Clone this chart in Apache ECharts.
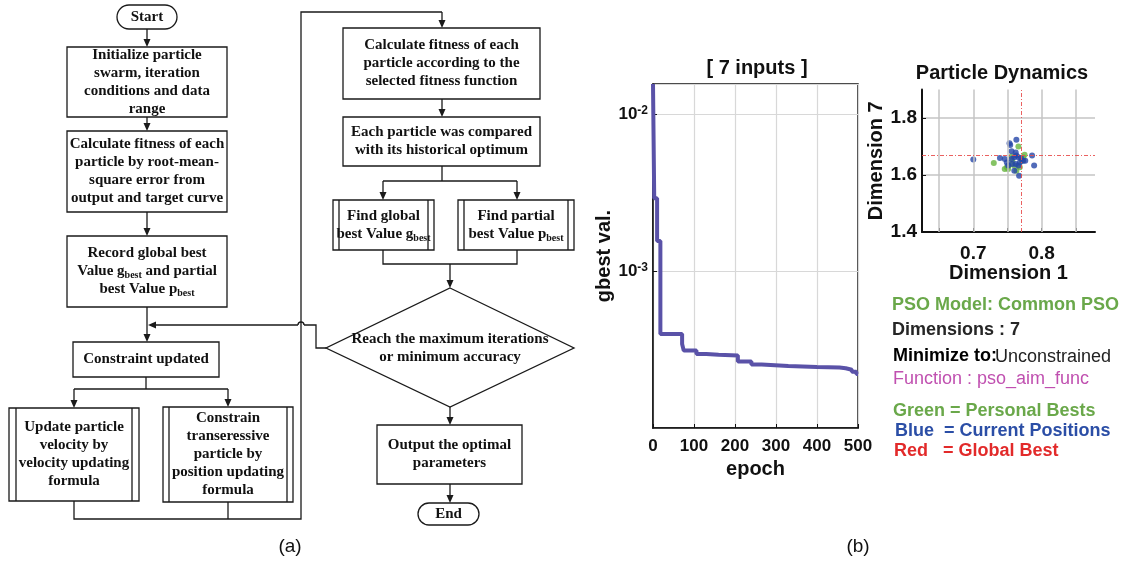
<!DOCTYPE html>
<html><head><meta charset="utf-8">
<script src="https://cdn.jsdelivr.net/npm/echarts@6/dist/echarts.min.js"></script>
<style>html,body{margin:0;padding:0;background:#fff}#c{width:1132px;height:566px}</style>
</head><body><div id="c"></div>
<script>
// ---- (b) convergence curve: gbest value vs epoch (step changes)
const epochs = [0, 3, 10, 18, 71, 75, 106, 130, 160, 207, 240, 265, 330, 400, 455, 470, 485, 496, 500];
const gbest  = [0.0155, 0.0029, 0.00155, 0.000397, 0.000343, 0.000311, 0.000296, 0.000293, 0.000290, 0.000265, 0.000254, 0.000248, 0.000245, 0.000243, 0.000240, 0.000235, 0.000228, 0.000221, 0.000219];
const epochTicks = [0, 100, 200, 300, 400, 500];
const logTickExps = [-2, -3];

// ---- (b) particle dynamics
const pbestX = [0.730, 0.766, 0.775, 0.773, 0.746, 0.751, 0.763, 0.757, 0.752, 0.749, 0.768, 0.760, 0.756, 0.771];
const pbestY = [1.642, 1.700, 1.671, 1.662, 1.621, 1.621, 1.615, 1.650, 1.633, 1.627, 1.627, 1.633, 1.665, 1.650];
const curX = [0.700, 0.753, 0.754, 0.763, 0.739, 0.756, 0.762, 0.763, 0.766, 0.760, 0.756, 0.749, 0.751, 0.757, 0.762, 0.760, 0.767, 0.773, 0.776, 0.786, 0.789, 0.746, 0.766, 0.768, 0.770];
const curY = [1.654, 1.711, 1.705, 1.724, 1.660, 1.683, 1.679, 1.668, 1.662, 1.662, 1.656, 1.644, 1.633, 1.639, 1.639, 1.615, 1.597, 1.650, 1.650, 1.668, 1.633, 1.656, 1.633, 1.644, 1.659];
const globalBest = [0.765, 1.670];
const dimXTicks = [0.65, 0.7, 0.75, 0.8, 0.85];
const dimXLabels = [0.7, 0.8];

// ---- texts
const infoLines = ['PSO Model: Common PSO', 'Dimensions : 7', 'Minimize to:', 'Unconstrained', 'Function : pso_aim_func',
  'Green = Personal Bests', 'Blue  = Current Positions', 'Red   = Global Best'];
const flowText = {
  start: 'Start', end: 'End',
  b1: ['Initialize particle', 'swarm, iteration', 'conditions and data', 'range'],
  b2: ['Calculate fitness of each', 'particle by root-mean-', 'square error from', 'output and target curve'],
  b3: ['Record global best', 'Value g{sub|best} and partial', 'best Value p{sub|best}'],
  b4: ['Constraint updated'],
  s1: ['Update particle', 'velocity by', 'velocity updating', 'formula'],
  s2: ['Constrain', 'transeressive', 'particle by', 'position updating', 'formula'],
  a: ['Calculate fitness of each', 'particle according to the', 'selected fitness function'],
  b: ['Each particle was compared', 'with its historical optimum'],
  c: ['Find global', 'best Value g{sub|best}'],
  d: ['Find partial', 'best Value p{sub|best}'],
  dia: ['Reach the maximum iterations', 'or minimum accuracy'],
  e: ['Output the optimal', 'parameters']
};

const SERIF = '"Liberation Serif","Times New Roman",serif';
const SANS = '"Liberation Sans",Arial,sans-serif';
const INK = '#1a1a1a';
const LW = 1.3;
const G = [];
function txt(cx, cy, lines) {
  G.push({type: 'text', x: cx, y: cy, silent: true, z: 10,
    style: {text: lines.join('\n'), fontFamily: SERIF, fontWeight: 'bold', fontSize: 15, lineHeight: 18,
      fill: '#111', align: 'center', verticalAlign: 'middle',
      rich: {sub: {fontFamily: SERIF, fontWeight: 'bold', fontSize: 10, lineHeight: 10, verticalAlign: 'bottom', fill: '#111'}}}});
}
function rect(x, y, w, h, r) {
  G.push({type: 'rect', silent: true, shape: {x, y, width: w, height: h, r: r || 0}, style: {fill: '#fff', stroke: INK, lineWidth: LW}});
}
function box(x, y, w, h, lines) { rect(x, y, w, h); txt(x + w / 2, y + h / 2, lines); }
function sub(x, y, w, h, lines, o) {
  rect(x, y, w, h);
  G.push({type: 'line', silent: true, shape: {x1: x + o, y1: y, x2: x + o, y2: y + h}, style: {stroke: INK, lineWidth: LW}});
  G.push({type: 'line', silent: true, shape: {x1: x + w - o, y1: y, x2: x + w - o, y2: y + h}, style: {stroke: INK, lineWidth: LW}});
  txt(x + w / 2, y + h / 2, lines);
}
function poly(pts) { G.push({type: 'polyline', silent: true, shape: {points: pts}, style: {stroke: INK, lineWidth: LW, fill: null}}); }
function arrowDown(x, y1, y2) {
  poly([[x, y1], [x, y2 - 6]]);
  G.push({type: 'polygon', silent: true, shape: {points: [[x - 3.5, y2 - 8], [x + 3.5, y2 - 8], [x, y2]]}, style: {fill: INK}});
}
function arrowLeft(x, y) {
  G.push({type: 'polygon', silent: true, shape: {points: [[x + 8, y - 3.5], [x + 8, y + 3.5], [x, y]]}, style: {fill: INK}});
}
// terminals
rect(117, 5, 60, 24, 12); txt(147, 17, [flowText.start]);
rect(418, 503, 61, 22, 11); txt(448.5, 514, [flowText.end]);
// left column
box(67, 47, 160, 70, flowText.b1);
box(67, 131, 160, 81, flowText.b2);
box(67, 236, 160, 71, flowText.b3);
box(73, 342, 146, 35, flowText.b4);
sub(9, 408, 130, 93, flowText.s1, 7);
sub(163, 407, 130, 95, flowText.s2, 6);
arrowDown(147, 29, 47);
arrowDown(147, 117, 131);
arrowDown(147, 212, 236);
arrowDown(147, 307, 342);
poly([[146, 377], [146, 389]]);
poly([[74, 389], [228, 389]]);
arrowDown(74, 389, 408);
arrowDown(228, 389, 407);
poly([[74, 501], [74, 519], [301, 519], [301, 12], [442, 12]]);
poly([[228, 502], [228, 519]]);
arrowDown(442, 12, 28);
// right column
box(343, 28, 197, 71, flowText.a);
box(343, 117, 197, 49, flowText.b);
sub(333, 200, 101, 50, flowText.c, 6);
sub(458, 200, 116, 50, flowText.d, 6);
arrowDown(442, 99, 117);
poly([[442, 166], [442, 181]]);
poly([[383, 181], [517, 181]]);
arrowDown(383, 181, 200);
arrowDown(517, 181, 200);
poly([[383, 250], [383, 264], [517, 264], [517, 250]]);
arrowDown(450, 264, 288);
G.push({type: 'polygon', silent: true, shape: {points: [[450, 288], [574, 348], [450, 407], [326, 348]]}, style: {fill: '#fff', stroke: INK, lineWidth: LW}});
txt(450, 348.5, flowText.dia);
poly([[326, 348], [316, 348], [316, 325], [304, 325]]);
G.push({type: 'arc', silent: true, shape: {cx: 301, cy: 325, r: 3, startAngle: Math.PI, endAngle: 2 * Math.PI, clockwise: true}, style: {stroke: INK, lineWidth: LW, fill: null}});
poly([[298, 325], [153, 325]]);
arrowLeft(148, 325);
arrowDown(450, 407, 425);
box(377, 425, 145, 59, flowText.e);
arrowDown(450, 484, 503);

// titles / captions / info text
function stext(x, y, s, size, weight, color, align) {
  G.push({type: 'text', x, y, silent: true, z: 10,
    style: {text: s, fontFamily: SANS, fontSize: size, fontWeight: weight, fill: color, align: align || 'center', verticalAlign: 'middle'}});
}
stext(290, 547, '(a)', 19, 'normal', '#111');
stext(858, 547, '(b)', 19, 'normal', '#111');
stext(757, 68, '[ 7 inputs ]', 20, 'bold', '#111');
stext(1002, 73, 'Particle Dynamics', 20, 'bold', '#111');
stext(892, 305, infoLines[0], 18, 'bold', '#6aa84a', 'left');
stext(892, 330, infoLines[1], 18, 'bold', '#262626', 'left');
stext(893, 356, infoLines[2], 18, 'bold', '#000', 'left');
stext(995, 357, infoLines[3], 18, 'normal', '#222', 'left');
stext(893, 379, infoLines[4], 18, 'normal', '#c050b0', 'left');
stext(893, 411, infoLines[5], 18, 'bold', '#6aa84a', 'left');
stext(895, 431, infoLines[6], 18, 'bold', '#2b4ea6', 'left');
stext(894, 451, infoLines[7], 18, 'bold', '#e22a2a', 'left');

const boldLbl = {fontFamily: SANS, fontWeight: 'bold', color: '#111'};
const chart = echarts.init(document.getElementById('c'));
chart.setOption({
  animation: false,
  backgroundColor: '#fff',
  textStyle: {fontFamily: SANS},
  grid: [
    {left: 653, top: 84, width: 205, height: 344, show: true, borderColor: '#111', borderWidth: 1.5, backgroundColor: 'transparent'},
    {left: 922, top: 89.5, width: 173, height: 142.5}
  ],
  xAxis: [
    {gridIndex: 0, type: 'value', min: epochTicks[0], max: epochTicks[epochTicks.length - 1], interval: 100,
      axisLine: {lineStyle: {color: '#111', width: 1.5}},
      axisTick: {inside: true, length: 4, lineStyle: {color: '#111'}},
      axisLabel: Object.assign({fontSize: 17, margin: 10}, boldLbl),
      splitLine: {lineStyle: {color: '#d8d8d8', width: 1.2}},
      name: 'epoch', nameLocation: 'middle', nameGap: 27, nameTextStyle: Object.assign({fontSize: 20}, boldLbl)},
    {gridIndex: 1, type: 'value', min: 0.625, max: 0.878,
      axisLine: {onZero: false, lineStyle: {color: '#111', width: 2}},
      axisTick: {inside: true, length: 4, customValues: dimXTicks, lineStyle: {color: '#111'}},
      axisLabel: Object.assign({fontSize: 19, margin: 12, customValues: dimXLabels}, boldLbl),
      splitLine: {show: false},
      name: 'Dimension 1', nameLocation: 'middle', nameGap: 30, nameTextStyle: Object.assign({fontSize: 20}, boldLbl)}
  ],
  yAxis: [
    {gridIndex: 0, type: 'log', logBase: 10, min: 1e-4, max: 0.0155,
      axisLine: {lineStyle: {color: '#111', width: 1.5}},
      axisTick: {inside: true, length: 4, lineStyle: {color: '#111'}},
      axisLabel: {showMinLabel: false, showMaxLabel: false, margin: 5,
        formatter: v => { const e = Math.round(Math.log10(v)); return logTickExps.indexOf(e) >= 0 ? '{b|10}{s|' + e + '}' : ''; },
        rich: {b: Object.assign({fontSize: 17}, boldLbl), s: Object.assign({fontSize: 12, verticalAlign: 'top', padding: [0, 0, 6, 0]}, boldLbl)}},
      splitLine: {lineStyle: {color: '#d8d8d8', width: 1.2}},
      name: 'gbest val.', nameLocation: 'middle', nameGap: 33, nameTextStyle: Object.assign({fontSize: 20}, boldLbl)},
    {gridIndex: 1, type: 'value', min: 1.4, max: 1.9, interval: 0.2,
      axisLine: {onZero: false, lineStyle: {color: '#111', width: 2}},
      axisTick: {inside: true, length: 4, lineStyle: {color: '#111'}},
      axisLabel: Object.assign({fontSize: 19, margin: 5, showMaxLabel: false, formatter: v => v.toFixed(1)}, boldLbl),
      splitLine: {showMaxLine: false, lineStyle: {color: '#c4c4c4', width: 1.5}},
      name: 'Dimension 7', nameLocation: 'middle', nameGap: 31, nameTextStyle: Object.assign({fontSize: 20}, boldLbl)}
  ],
  series: [
    {type: 'line', xAxisIndex: 0, yAxisIndex: 0, step: 'end', showSymbol: false, clip: true,
      lineStyle: {color: '#5a52a8', width: 4}, data: epochs.map((e, i) => [e, gbest[i]])},
    {type: 'scatter', xAxisIndex: 1, yAxisIndex: 1, data: [], z: 1,
      markLine: {silent: true, symbol: ['none', 'none'], label: {show: false}, animation: false,
        lineStyle: {color: '#c4c4c4', width: 1.5, type: 'solid'},
        data: dimXTicks.map(v => ({xAxis: v}))}},
    {type: 'scatter', xAxisIndex: 1, yAxisIndex: 1, data: [], z: 2,
      markLine: {silent: true, symbol: ['none', 'none'], label: {show: false}, animation: false,
        lineStyle: {color: '#e8504f', width: 1, type: [4, 2, 1, 2], opacity: 0.9},
        data: [{xAxis: globalBest[0]}, {yAxis: globalBest[1]}]}},
    {type: 'scatter', xAxisIndex: 1, yAxisIndex: 1, symbolSize: 6, z: 3,
      itemStyle: {color: '#66b43e'}, data: pbestX.map((x, i) => [x, pbestY[i]])},
    {type: 'scatter', xAxisIndex: 1, yAxisIndex: 1, symbolSize: 6, z: 4,
      itemStyle: {color: '#2646a8'}, data: curX.map((x, i) => [x, curY[i]])}
  ],
  graphic: G
});
</script></body></html>
